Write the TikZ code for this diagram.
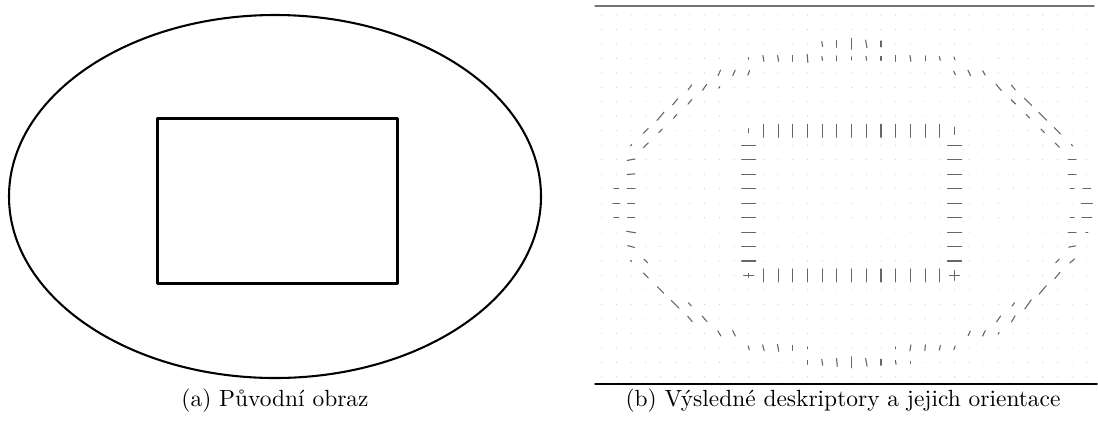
\documentclass[tikz,border=0pt]{standalone}
\tikzset{
  desc/.style={black!60, line width=0.45pt},
  gdot/.style={black!22},
}
\newcommand\cx[1]{601.7+14.7*#1}
\newcommand\cy[1]{15+14.47*#1}
\begin{document}
\begin{tikzpicture}[x=0.41pt, y=-0.41pt, line join=round, line cap=round, font=\fontsize{9.6}{11.5}\selectfont]
	\useasboundingbox (0,0) rectangle (1098,420);
	% (a) puvodni obraz
	\draw[line width=0.85pt] (275,196.5) ellipse [x radius=266, y radius=181.5];
	\draw[line width=1.25pt] (157.3,118.3) rectangle (397.3,283.3);
	\node (capa) at (275,401) {(a) Původní obraz};
	% (b) deskriptory
	\draw[black!55, line width=0.5pt] (595,6) -- (1094,6);
	\draw[line width=0.6pt] (595,384) -- (1097,384);
	\foreach \c in {0,...,33} \foreach \r in {0,...,25}
		\fill[gdot] ({\cx{\c}},{\cy{\r}}) circle [radius=0.55];
	% obdelnik
	\foreach \c in {11,...,23} {
		\draw[desc] ({\cx{\c}},{\cy{8}}) +(-90:6.5) -- +(90:6.5);
		\draw[desc] ({\cx{\c}},{\cy{18}}) +(-90:6.5) -- +(90:6.5);
	}
	\foreach \r in {9,...,17} {
		\draw[desc] ({\cx{10}},{\cy{\r}}) +(0:7) -- +(180:7);
		\draw[desc] ({\cx{24}},{\cy{\r}}) +(0:7) -- +(180:7);
	}
	% elipsa: sloupec/radek/uhel/delka
	\foreach \c/\r/\a/\l in {
		15/2/100/5, 16/2/90/7, 17/2/90/11, 18/2/100/8, 19/2/90/6,
		10/3/90/2, 11/3/100/6, 12/3/100/6, 13/3/90/6, 14/3/95/8, 15/3/100/4, 16/3/90/5,
		17/3/90/3, 18/3/100/4, 19/3/90/4, 20/3/90/6, 21/3/100/6, 22/3/90/5, 23/3/105/4, 24/3/110/3,
		8/4/65/6, 9/4/65/6, 10/4/70/5, 24/4/115/4, 25/4/115/6, 26/4/120/5,
		6/5/55/6, 7/5/55/7, 8/5/60/2, 27/5/130/8, 28/5/130/6,
		5/6/50/8, 6/6/50/6, 28/6/135/6, 29/6/135/10,
		4/7/50/11, 5/7/50/5, 29/7/135/5, 30/7/135/11,
		3/8/45/7, 4/8/45/5, 30/8/135/5, 31/8/135/9,
		2/9/45/2, 3/9/45/7, 31/9/135/6, 32/9/135/2,
		2/10/10/8, 32/10/0/8,
		2/11/5/8, 32/11/0/8,
		1/12/0/5, 2/12/0/8, 32/12/0/4, 33/12/0/8,
		1/13/0/7, 2/13/0/7, 33/13/0/11,
		1/14/0/5, 2/14/0/7, 32/14/0/4, 33/14/0/10,
		2/15/170/9, 32/15/0/8, 33/15/0/2,
		2/16/165/7, 32/16/10/7,
		2/17/135/2, 3/17/135/5, 31/17/45/5, 32/17/40/6,
		3/18/135/7, 31/18/50/8,
		4/19/135/9, 30/19/50/11,
		5/20/135/11, 6/20/130/4, 28/20/55/4, 29/20/55/11,
		6/21/130/7, 7/21/130/7, 27/21/55/7, 28/21/60/7,
		8/22/120/6, 9/22/115/6, 25/22/65/5, 26/22/65/6, 27/22/60/2,
		10/23/105/4, 11/23/105/6, 12/23/100/7, 13/23/90/5, 14/23/90/2,
		20/23/90/2, 21/23/80/6, 22/23/85/6, 23/23/75/5, 24/23/70/4,
		14/24/90/4, 15/24/100/6, 16/24/95/8, 17/24/90/11, 18/24/100/8, 19/24/90/6, 20/24/100/4, 21/24/90/2}
		\draw[desc] ({\cx{\c}},{\cy{\r}}) +(-\a:\l/2) -- +(180-\a:\l/2);
	% rohy
	\draw[desc] ({\cx{24}},{\cy{8}}) +(-90:3.5) -- +(90:3.5);
	\draw[desc] ({\cx{10}},{\cy{8}}) +(-90:2) -- +(90:2);
	\draw[desc] ({\cx{10}},{\cy{18}}) +(0:5) -- +(180:5) +(-90:2) -- +(90:2);
	\draw[desc] ({\cx{24}},{\cy{18}}) +(0:5) -- +(180:5) +(-90:5) -- +(90:5);
	\node (capb) at (843,401) {(b) Výsledné deskriptory a jejich orientace};
\end{tikzpicture}
\end{document}
